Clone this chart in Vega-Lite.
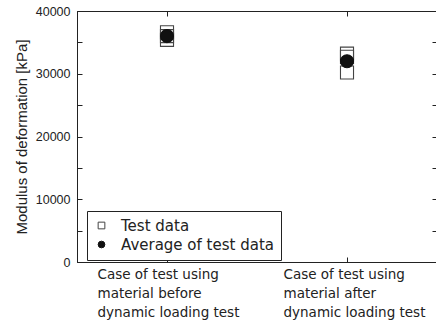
{
  "$schema": "https://vega.github.io/schema/vega-lite/v6.json",
  "autosize": "none",
  "width": 360,
  "height": 251,
  "padding": {"left": 77, "top": 11, "right": 0, "bottom": 62},
  "background": "white",
  "config": {
    "view": {"stroke": "#222", "strokeWidth": 1},
    "axis": {"domainColor": "#222", "tickColor": "#222", "grid": false, "labelColor": "#222", "titleColor": "#222"}
  },
  "data": {"values": [
    {"case": "Case of test using|material before|dynamic loading test", "series": "Test data", "value": 36600},
    {"case": "Case of test using|material before|dynamic loading test", "series": "Test data", "value": 35400},
    {"case": "Case of test using|material before|dynamic loading test", "series": "Test data", "value": 36000},
    {"case": "Case of test using|material after|dynamic loading test", "series": "Test data", "value": 33200},
    {"case": "Case of test using|material after|dynamic loading test", "series": "Test data", "value": 32700},
    {"case": "Case of test using|material after|dynamic loading test", "series": "Test data", "value": 30200},
    {"case": "Case of test using|material before|dynamic loading test", "series": "Average of test data", "value": 36000},
    {"case": "Case of test using|material after|dynamic loading test", "series": "Average of test data", "value": 32000}
  ]},
  "layer": [
    {
      "mark": {"type": "point", "filled": true, "size": 170, "strokeWidth": 1.1, "opacity": 1},
      "encoding": {
        "x": {"field": "case", "type": "nominal", "sort": null,
          "scale": {"type": "point", "padding": 0.5},
          "axis": {"orient": "bottom", "title": null, "labelAngle": 0, "labelExpr": "split(datum.label, '|')",
            "labelAlign": "left",
            "labelOffset": {"condition": {"test": "indexof(datum.value, 'after') >= 0", "value": -64}, "value": -70},
            "labelBaseline": "top", "labelLineHeight": 19,
            "labelFont": "DejaVu Sans", "labelFontSize": 13.5, "tickSize": -5, "labelPadding": 10, "domain": true}},
        "y": {"field": "value", "type": "quantitative",
          "scale": {"domain": [0, 40000], "nice": false},
          "axis": {"orient": "left", "title": "Modulus of deformation [kPa]", "values": [0,5000,10000,15000,20000,25000,30000,35000,40000],
            "format": "d", "labelExpr": "datum.value % 10000 === 0 ? datum.label : ''",
            "tickSize": -5, "labelPadding": 12, "labelFont": "Liberation Sans", "labelFontSize": 12.5,
            "titleFont": "Liberation Sans", "titleFontSize": 15, "titleFontWeight": "normal", "titlePadding": 6}},
        "shape": {"field": "series", "type": "nominal",
          "scale": {"domain": ["Test data", "Average of test data"], "range": ["square", "circle"]},
          "legend": {"orient": "none", "legendX": 10, "legendY": 200, "title": null,
            "strokeColor": "#222", "fillColor": "white", "padding": 7, "rowPadding": 3,
            "labelFont": "DejaVu Sans", "labelFontSize": 15, "labelColor": "#222", "labelOffset": 12,
            "symbolSize": 45, "symbolStrokeWidth": 1}},
        "fill": {"field": "series", "type": "nominal",
          "scale": {"domain": ["Test data", "Average of test data"], "range": ["transparent", "#111"]}},
        "stroke": {"field": "series", "type": "nominal",
          "scale": {"domain": ["Test data", "Average of test data"], "range": ["#444", "#111"]}}
      }
    },
    {
      "mark": {"type": "point", "opacity": 0},
      "encoding": {
        "x": {"field": "case", "type": "nominal", "sort": null,
          "axis": {"orient": "top", "title": null, "labels": false, "tickSize": -5}},
        "y": {"field": "value", "type": "quantitative",
          "axis": {"orient": "right", "title": null, "labels": false, "tickSize": -5,
            "values": [0,5000,10000,15000,20000,25000,30000,35000,40000]}}
      }
    }
  ],
  "resolve": {"axis": {"x": "independent", "y": "independent"}}
}
